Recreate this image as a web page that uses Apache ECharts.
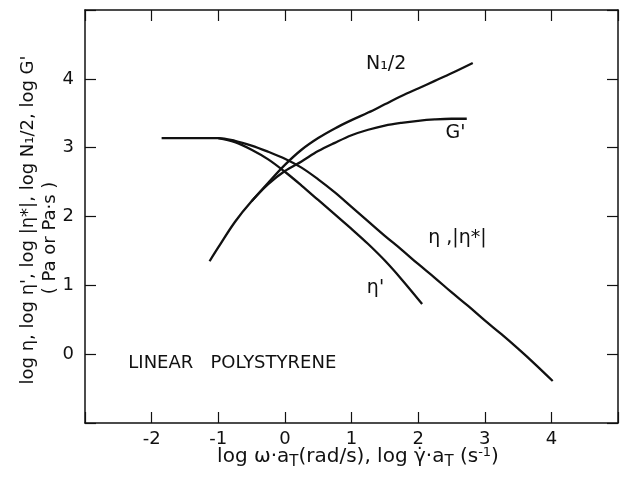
<!DOCTYPE html>
<html>
<head>
<meta charset="utf-8">
<script src="https://cdn.jsdelivr.net/npm/echarts@6/dist/echarts.min.js"></script>
<style>
  html, body { margin: 0; padding: 0; background: #fff; }
  #chart { width: 626px; height: 477px; }
</style>
</head>
<body>
<div id="chart"></div>
<script>
// Master curves for linear polystyrene: log of each quantity against log ω·aT (or log γ̇·aT)

// η, |η*|
const etaX = [-1.85, -1.0, -0.75, -0.5, -0.25, 0.0, 0.25, 0.5, 0.75, 1.0, 1.25, 1.5, 1.75, 2.0, 2.25, 2.5, 2.75, 3.0, 3.25, 3.5, 3.75, 4.02];
const etaY = [3.14, 3.14, 3.10, 3.03, 2.94, 2.84, 2.71, 2.54, 2.35, 2.14, 1.93, 1.72, 1.52, 1.31, 1.11, 0.90, 0.70, 0.49, 0.29, 0.08, -0.14, -0.39];

// η'
const etaPrimeX = [-1.0, -0.75, -0.5, -0.25, 0.0, 0.25, 0.5, 0.75, 1.0, 1.25, 1.5, 1.75, 2.06];
const etaPrimeY = [3.14, 3.08, 2.97, 2.83, 2.65, 2.45, 2.24, 2.03, 1.82, 1.60, 1.36, 1.09, 0.73];

// G'
const gPrimeX = [-1.13, -1.0, -0.75, -0.5, -0.25, 0.0, 0.25, 0.5, 0.75, 1.0, 1.25, 1.5, 1.75, 2.0, 2.25, 2.5, 2.73];
const gPrimeY = [1.35, 1.55, 1.92, 2.22, 2.47, 2.66, 2.80, 2.95, 3.07, 3.18, 3.26, 3.32, 3.36, 3.39, 3.41, 3.42, 3.42];

// N1/2 (leaves the G' curve just below log ω·aT = 0)
const n1X = [-0.5, -0.25, 0.0, 0.25, 0.5, 0.75, 1.0, 1.25, 1.5, 1.75, 2.0, 2.25, 2.5, 2.82];
const n1Y = [2.22, 2.49, 2.75, 2.97, 3.14, 3.28, 3.40, 3.51, 3.63, 3.75, 3.86, 3.97, 4.08, 4.23];

// Curve labels and where they sit in data space
const curveLabels = ['N\u2081/2', "G'", '\u03b7 ,|\u03b7*|', "\u03b7'"];
const curveLabelX = [1.52, 2.56, 2.59, 1.36];
const curveLabelY = [4.21, 3.21, 1.69, 0.96];

const sampleName = 'LINEAR   POLYSTYRENE';
const sampleAnchor = [-2.35, -0.14];

// Tick labels
const xTickLabels = [-2, -1, 0, 1, 2, 3, 4];
const yTickLabels = [0, 1, 2, 3, 4];

const pairs = (xs, ys) => xs.map((x, i) => [x, ys[i]]);

const FONT = 'DejaVu Sans';
const INK = '#111';

const curve = (name, xs, ys) => ({
  name,
  type: 'line',
  data: pairs(xs, ys),
  symbol: 'none',
  smooth: 0.35,
  lineStyle: { color: INK, width: 2.3 },
  silent: true
});

const textMarks = (items, labelOpts) => ({
  type: 'scatter',
  symbolSize: 0,
  silent: true,
  itemStyle: { opacity: 1 },
  data: items,
  label: Object.assign({
    show: true, formatter: p => p.name,
    color: INK, fontFamily: FONT, opacity: 1
  }, labelOpts)
});

const frameAxis = {
  axisLine: { show: true, onZero: false, lineStyle: { color: INK, width: 1.5 } },
  axisTick: { show: true, inside: true, length: 11, lineStyle: { color: INK, width: 1.2 } },
  splitLine: { show: false }
};

const chart = echarts.init(document.getElementById('chart'), null, { renderer: 'canvas' });

chart.setOption({
  animation: false,
  backgroundColor: '#fff',
  grid: { left: 85, top: 10, width: 533, height: 413, containLabel: false },
  xAxis: [
    Object.assign({
      type: 'value', min: -3, max: 5, interval: 1, position: 'bottom',
      axisLabel: {
        color: INK, fontFamily: FONT, fontSize: 18, margin: 7,
        formatter: v => (xTickLabels.indexOf(v) >= 0 ? String(v) : '')
      }
    }, frameAxis),
    Object.assign({
      type: 'value', min: -3, max: 5, interval: 1, position: 'top',
      axisLabel: { show: false }
    }, frameAxis)
  ],
  yAxis: [
    Object.assign({
      type: 'value', min: -1, max: 5, interval: 1, position: 'left',
      axisLabel: {
        color: INK, fontFamily: FONT, fontSize: 18, margin: 11,
        formatter: v => (yTickLabels.indexOf(v) >= 0 ? String(v) : '')
      }
    }, frameAxis),
    Object.assign({
      type: 'value', min: -1, max: 5, interval: 1, position: 'right',
      axisLabel: { show: false }
    }, frameAxis)
  ],
  series: [
    curve('eta', etaX, etaY),
    curve('etaPrime', etaPrimeX, etaPrimeY),
    curve('gPrime', gPrimeX, gPrimeY),
    curve('n1', n1X, n1Y),
    textMarks(
      curveLabels.map((t, i) => ({ name: t, value: [curveLabelX[i], curveLabelY[i]] })),
      { position: 'inside', fontSize: 19 }
    ),
    textMarks(
      [{ name: sampleName, value: sampleAnchor }],
      { position: 'right', distance: 0, fontSize: 18 }
    )
  ],
  graphic: [
    {
      type: 'text', x: 358, y: 457,
      style: {
        text: 'log \u03c9\u00b7a{sub|T}(rad/s), log \u03b3\u0307\u00b7a{sub|T} (s{sup|-1})',
        align: 'center', verticalAlign: 'middle',
        fontFamily: FONT, fontSize: 20, fill: INK,
        rich: {
          sub: { fontFamily: FONT, fontSize: 15, fill: INK, padding: [10, 0, 0, 0] },
          sup: { fontFamily: FONT, fontSize: 13, fill: INK, padding: [0, 0, 9, 0] }
        }
      }
    },
    {
      type: 'text', x: 28, y: 220, rotation: Math.PI / 2,
      style: {
        text: "log \u03b7, log \u03b7', log |\u03b7*|, log N\u2081/2, log G'",
        align: 'center', verticalAlign: 'middle',
        fontFamily: FONT, fontSize: 18, fill: INK
      }
    },
    {
      type: 'text', x: 50, y: 238, rotation: Math.PI / 2,
      style: {
        text: '( Pa or Pa\u00b7s )',
        align: 'center', verticalAlign: 'middle',
        fontFamily: FONT, fontSize: 18, fill: INK
      }
    }
  ]
});
</script>
</body>
</html>
